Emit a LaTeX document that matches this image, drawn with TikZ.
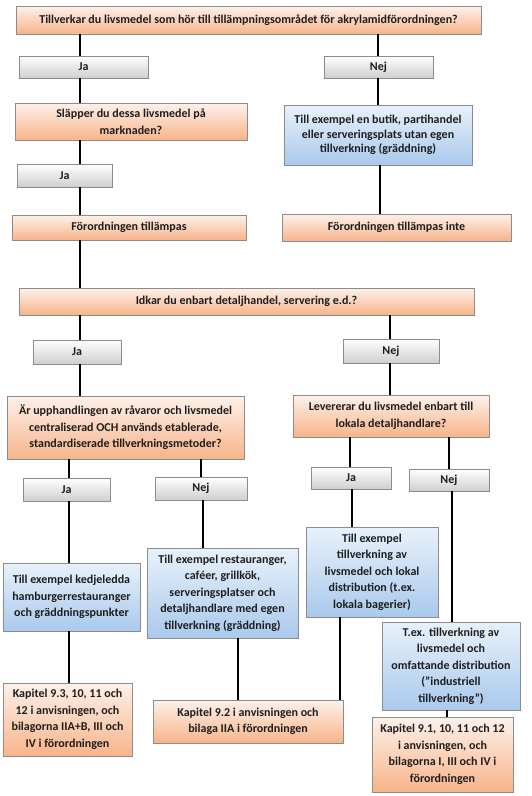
\documentclass[tikz,border=0pt]{standalone}
\usepackage{fontspec}
\setmainfont{Carlito}
\usetikzlibrary{shadows}
\definecolor{otop}{HTML}{FEF1EA}
\definecolor{obot}{HTML}{F7B48A}
\definecolor{gtop}{HTML}{FFFFFF}
\definecolor{gbot}{HTML}{CFCFCF}
\definecolor{btop}{HTML}{E8F1FB}
\definecolor{bbot}{HTML}{A9C9EC}
\definecolor{bord}{HTML}{8C8C8C}
\definecolor{txt}{HTML}{1E1E1E}
\newcommand\mybox[7]{\node[#1, minimum width={(#5-#3)*1pt}, minimum height={(#6-#4)*1pt}] (#2) at ({(#3+#5)/2},{(#4+#6)/2}) {#7};}
\begin{document}
\begin{tikzpicture}[x=1pt,y=-1pt,
  base/.style={draw=bord, line width=0.8pt, align=center, inner sep=1pt, text=txt,
     drop shadow={opacity=0.25, shadow xshift=1.2pt, shadow yshift=-1.2pt}},
  obox/.style={base, top color=otop, bottom color=obot},
  gbox/.style={base, top color=gtop, bottom color=gbot},
  bbox/.style={base, top color=btop, bottom color=bbot},
  fs/.style={font=\bfseries\fontsize{12}{14.3}\selectfont},
  fl/.style={font=\bfseries\fontsize{12}{16.5}\selectfont},
  conn/.style={line width=1.4pt, black}]
\useasboundingbox (0,0) rectangle (531,796);
\fill[white] (0,0) rectangle (531,796);

\mybox{obox,fs}{top}{16}{6}{481}{34}{Tillverkar du livsmedel som hör till tillämpningsområdet för akrylamidförordningen?}
\mybox{gbox,fs}{ja1}{19}{56}{148}{78}{Ja}
\mybox{gbox,fs}{nej1}{324}{56}{433}{78}{Nej}
\mybox{obox,fl}{slapper}{15}{103}{247}{140}{Släpper du dessa livsmedel på\\marknaden?}
\mybox{bbox,fs}{blue1}{284}{105}{472}{165}{Till exempel en butik, partihandel\\eller serveringsplats utan egen\\tillverkning (gräddning)}
\mybox{gbox,fs}{ja2}{17}{164}{112}{187}{Ja}
\mybox{obox,fs}{fort}{12}{215}{246}{240}{Förordningen tillämpas}
\mybox{obox,fs}{fortinte}{282}{214}{511}{241}{Förordningen tillämpas inte}
\mybox{obox,fs}{idkar}{19}{288}{474}{315}{Idkar du enbart detaljhandel, servering e.d.?}
\mybox{gbox,fs}{ja3}{33}{340}{121}{364}{Ja}
\mybox{gbox,fs}{nej3}{343}{339}{439}{363}{Nej}
\mybox{obox,fl}{ar}{7}{396}{244}{459}{Är upphandlingen av råvaror och livsmedel\\centraliserad OCH används etablerade,\\standardiserade tillverkningsmetoder?}
\mybox{obox,fl}{lev}{293}{395}{489}{437}{Levererar du livsmedel enbart till\\lokala detaljhandlare?}
\mybox{gbox,fl}{ja4}{23}{478}{110}{501}{Ja}
\mybox{gbox,fl}{nej4}{155}{477}{247}{500}{Nej}
\mybox{gbox,fl}{ja5}{311}{467}{391}{489}{Ja}
\mybox{gbox,fl}{nej5}{409}{469}{489}{491}{Nej}
\mybox{bbox,fl}{blueA}{3}{563}{140}{631}{Till exempel kedjeledda\\hamburgerrestauranger\\och gräddningspunkter}
\mybox{bbox,fl}{blueB}{147}{548}{298}{638}{Till exempel restauranger,\\caféer, grillkök,\\serveringsplatser och\\detaljhandlare med egen\\tillverkning (gräddning)}
\mybox{bbox,fl}{blueC}{306}{527}{438}{617}{Till exempel\\tillverkning av\\livsmedel och lokal\\distribution (t.ex.\\lokala bagerier)}
\mybox{bbox,fl}{blueD}{382}{622}{520}{710}{T.ex. tillverkning av\\livsmedel och\\omfattande distribution\\(”industriell\\tillverkning”)}
\mybox{obox,fl}{kapA}{3}{683}{132}{756}{Kapitel 9.3, 10, 11 och\\12 i anvisningen, och\\bilagorna IIA+B, III och\\IV i förordningen}
\mybox{obox,fl}{kapB}{153}{700}{343}{743}{Kapitel 9.2 i anvisningen och\\bilaga IIA i förordningen}
\mybox{obox,fl}{kapC}{372}{717}{513}{792}{Kapitel 9.1, 10, 11 och 12\\i anvisningen, och\\bilagorna I, III och IV i\\förordningen}

\coordinate (x80) at (80,0);
\coordinate (x378) at (378,0);
\coordinate (x380) at (380,0);
\coordinate (x390) at (390,0);
\coordinate (x69) at (69,0);
\coordinate (x201) at (201,0);
\coordinate (x350) at (350,0);
\coordinate (x449) at (449,0);
\coordinate (x203) at (203,0);
\coordinate (x352) at (352,0);
\coordinate (x452) at (452,0);
\coordinate (x238) at (238,0);
\coordinate (x340) at (340,0);
\coordinate (x447) at (447,0);

\draw[conn] (top.south -| x80) -- (ja1.north -| x80);
\draw[conn] (top.south -| x378) -- (nej1.north -| x378);
\draw[conn] (ja1.south -| x80) -- (slapper.north -| x80);
\draw[conn] (nej1.south -| x378) -- (blue1.north -| x378);
\draw[conn] (slapper.south -| x80) -- (ja2.north -| x80);
\draw[conn] (ja2.south -| x80) -- (fort.north -| x80);
\draw[conn] (blue1.south -| x380) -- (fortinte.north -| x380);
\draw[conn] (fort.south -| x80) -- (idkar.north -| x80);
\draw[conn] (idkar.south -| x80) -- (ja3.north -| x80);
\draw[conn] (idkar.south -| x390) -- (nej3.north -| x390);
\draw[conn] (ja3.south -| x80) -- (ar.north -| x80);
\draw[conn] (nej3.south -| x390) -- (lev.north -| x390);
\draw[conn] (ar.south -| x69) -- (ja4.north -| x69);
\draw[conn] (ar.south -| x201) -- (nej4.north -| x201);
\draw[conn] (lev.south -| x350) -- (ja5.north -| x350);
\draw[conn] (lev.south -| x449) -- (nej5.north -| x449);
\draw[conn] (ja4.south -| x69) -- (blueA.north -| x69);
\draw[conn] (nej4.south -| x203) -- (blueB.north -| x203);
\draw[conn] (ja5.south -| x352) -- (blueC.north -| x352);
\draw[conn] (nej5.south -| x452) -- (blueD.north -| x452);
\draw[conn] (blueA.south -| x69) -- (kapA.north -| x69);
\draw[conn] (blueB.south -| x238) -- (kapB.north -| x238);
\draw[conn] (blueC.south -| x340) -- (kapB.north -| x340);
\draw[conn] (blueD.south -| x447) -- (kapC.north -| x447);
\end{tikzpicture}
\end{document}
